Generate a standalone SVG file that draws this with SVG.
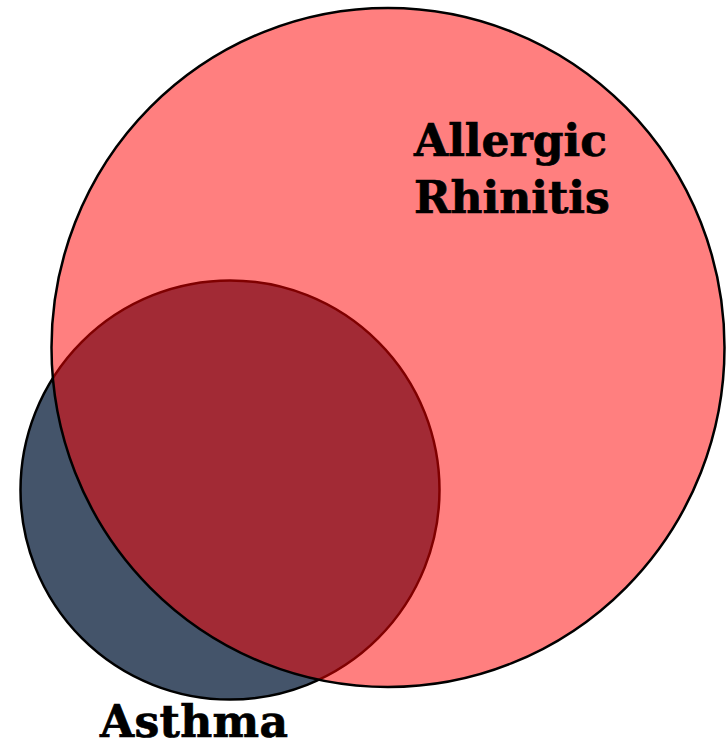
<svg xmlns="http://www.w3.org/2000/svg" width="728" height="744" viewBox="0 0 728 744">
<style>
.lbl{font-family:"DejaVu Serif","Liberation Serif",serif;font-weight:bold;font-size:44px;fill:#000;stroke:#000;stroke-width:0.7px}
</style>
<rect width="728" height="744" fill="#fff"/>
<g id="asthma">
<circle cx="230" cy="490" r="209.5" fill="#44546A" stroke="#000" stroke-width="2.5"/>
</g>
<g id="allergic-rhinitis">
<ellipse cx="388" cy="347.5" rx="336.5" ry="339.5" fill="rgb(255,0,0)" fill-opacity="0.5" stroke="#000" stroke-width="2.5"/>
</g>
<g id="labels">
<text class="lbl" x="414" y="156">Allergic</text>
<text class="lbl" x="414" y="213">Rhinitis</text>
<text class="lbl" x="100" y="737" textLength="188">Asthma</text>
</g>
<g id="connectors"/>
</svg>
